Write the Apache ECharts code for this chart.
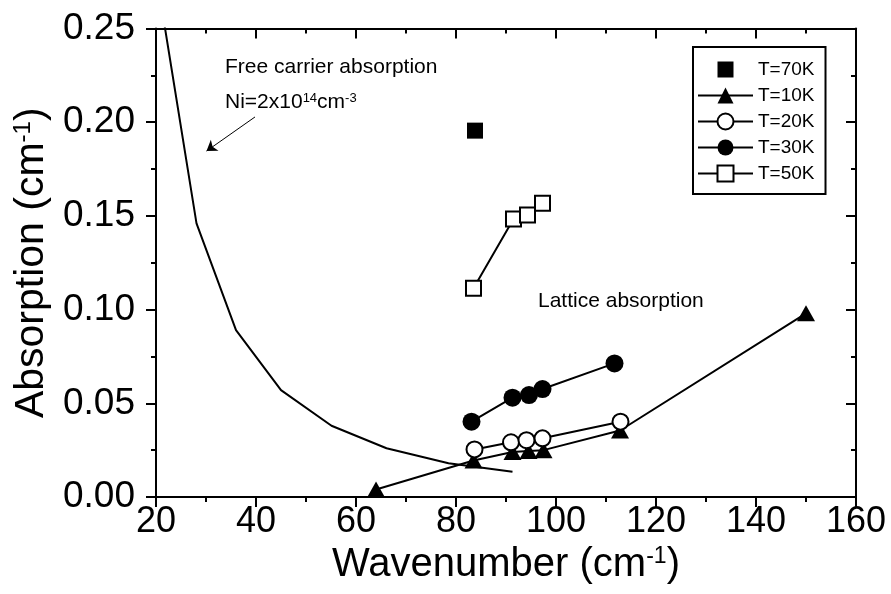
<!DOCTYPE html>
<html>
<head>
<meta charset="utf-8">
<script src="https://cdn.jsdelivr.net/npm/echarts@6/dist/echarts.min.js"></script>
<style>
html,body{margin:0;padding:0;background:#fff;}
#chart{width:891px;height:594px;}
</style>
</head>
<body>
<div id="chart"></div>
<script>
// ---- data ----
const xTicks = { min: 20, max: 160, interval: 20 };
const yTicks = { min: 0, max: 0.25, interval: 0.05 };

const legendNames = ['T=70K', 'T=10K', 'T=20K', 'T=30K', 'T=50K'];

const t70 = [[83.8, 0.1955]];
const t10 = [[64, 0.004], [83.5, 0.0195], [91.3, 0.024], [94.5, 0.0245], [97.5, 0.025], [112.8, 0.0355], [150, 0.098]];
const t20 = [[83.7, 0.0254], [91, 0.0292], [94.1, 0.0303], [97.3, 0.0313], [112.9, 0.0402]];
const t30 = [[83.1, 0.0402], [91.3, 0.053], [94.6, 0.0544], [97.3, 0.0576], [111.7, 0.0713]];
const t50 = [[83.5, 0.1114], [91.5, 0.1483], [94.3, 0.1505], [97.3, 0.1567]];

const freeCarrier = [[20, 0.28], [28.1, 0.146], [36, 0.089], [45, 0.057], [55.1, 0.038], [66.1, 0.026], [78.5, 0.018], [91.3, 0.0135]];
const arrowFrom = [39.8, 0.2028];
const arrowTo = [30.1, 0.1846];

const FONT = '"Liberation Sans", Arial, sans-serif';

const chart = echarts.init(document.getElementById('chart'), null, { renderer: 'canvas' });

const axisLineStyle = { color: '#000', width: 2 };

function mainX() {
  return {
    type: 'value', position: 'bottom', gridIndex: 0,
    min: xTicks.min, max: xTicks.max, interval: xTicks.interval,
    axisLine: { show: true, onZero: false, lineStyle: axisLineStyle },
    axisTick: { show: true, inside: false, length: 10, lineStyle: axisLineStyle },
    minorTick: { show: true, splitNumber: 2, length: 5, lineStyle: axisLineStyle },
    splitLine: { show: false },
    axisLabel: { fontSize: 36, color: '#000', fontFamily: FONT, margin: 7 },
    name: 'Wavenumber (cm{sup|-1})',
    nameLocation: 'middle', nameGap: 46,
    nameTextStyle: {
      fontSize: 40, color: '#000', fontFamily: FONT,
      rich: { sup: { fontSize: 23, color: '#000', fontFamily: FONT, verticalAlign: 'top' } }
    }
  };
}
function topX() {
  return {
    type: 'value', position: 'top', gridIndex: 0,
    min: xTicks.min, max: xTicks.max, interval: xTicks.interval,
    axisLine: { show: true, onZero: false, lineStyle: axisLineStyle },
    axisTick: { show: true, inside: true, length: 10, lineStyle: axisLineStyle },
    minorTick: { show: true, splitNumber: 2, length: 5, lineStyle: axisLineStyle },
    splitLine: { show: false },
    axisLabel: { show: false }
  };
}
function mainY() {
  return {
    type: 'value', position: 'left', gridIndex: 0,
    min: yTicks.min, max: yTicks.max, interval: yTicks.interval,
    axisLine: { show: true, onZero: false, lineStyle: axisLineStyle },
    axisTick: { show: true, inside: false, length: 10, lineStyle: axisLineStyle },
    minorTick: { show: true, splitNumber: 2, length: 5, lineStyle: axisLineStyle },
    splitLine: { show: false },
    axisLabel: { fontSize: 37, color: '#000', fontFamily: FONT, margin: 21,
      formatter: v => v.toFixed(2) },
    name: 'Absorption (cm{sup|-1})',
    nameLocation: 'middle', nameGap: 91, nameRotate: 90,
    nameTextStyle: {
      fontSize: 41, color: '#000', fontFamily: FONT,
      rich: { sup: { fontSize: 24, color: '#000', fontFamily: FONT, verticalAlign: 'top' } }
    }
  };
}
function rightY() {
  return {
    type: 'value', position: 'right', gridIndex: 0,
    min: yTicks.min, max: yTicks.max, interval: yTicks.interval,
    axisLine: { show: true, onZero: false, lineStyle: axisLineStyle },
    axisTick: { show: true, inside: true, length: 10, lineStyle: axisLineStyle },
    minorTick: { show: true, splitNumber: 2, length: 5, lineStyle: axisLineStyle },
    splitLine: { show: false },
    axisLabel: { show: false }
  };
}

const blackLine = { color: '#000', width: 2 };

const option = {
  backgroundColor: '#fff',
  animation: false,
  grid: { left: 156, right: 35, top: 28.5, bottom: 97, containLabel: false },
  xAxis: [mainX(), topX()],
  yAxis: [mainY(), rightY()],
  legend: {
    data: legendNames,
    orient: 'vertical',
    left: 693, top: 47,
    itemWidth: 55, itemHeight: 20, itemGap: 7,
    padding: [13, 11, 11, 4],
    borderColor: '#000', borderWidth: 2,
    backgroundColor: '#fff',
    textStyle: { fontSize: 19, color: '#000', fontFamily: FONT },
    selectedMode: false
  },
  graphic: [
    { type: 'text', left: 225, top: 57, silent: true,
      style: { text: 'Free carrier absorption', fill: '#000', font: '21px ' + FONT } },
    { type: 'text', left: 225, top: 92, silent: true,
      style: { text: 'Ni=2x10{sup|14}cm{sup|-3}', fill: '#000', font: '21px ' + FONT,
        rich: { sup: { fontSize: 13, fill: '#000', fontFamily: FONT, verticalAlign: 'top' } } } },
    { type: 'text', left: 538, top: 291, silent: true,
      style: { text: 'Lattice absorption', fill: '#000', font: '21px ' + FONT } }
  ],
  series: [
    {
      name: 'Free carrier', type: 'line', data: freeCarrier,
      xAxisIndex: 0, yAxisIndex: 0,
      symbol: 'none', clip: true, z: 2,
      lineStyle: blackLine, itemStyle: { color: '#000' },
      markLine: {
        silent: true, animation: false,
        symbol: ['none', 'arrow'], symbolSize: 10,
        lineStyle: { color: '#000', width: 1, type: 'solid' },
        label: { show: false },
        data: [[{ coord: arrowFrom }, { coord: arrowTo }]]
      }
    },
    {
      name: 'T=70K', type: 'line', data: t70, xAxisIndex: 0, yAxisIndex: 0,
      symbol: 'rect', symbolSize: 16, showAllSymbol: true, z: 5,
      lineStyle: { color: '#000', width: 2, opacity: 0 },
      itemStyle: { color: '#000', opacity: 1 }
    },
    {
      name: 'T=10K', type: 'line', data: t10, xAxisIndex: 0, yAxisIndex: 0,
      symbol: 'triangle', symbolSize: [18, 16], showAllSymbol: true, z: 3,
      lineStyle: blackLine, itemStyle: { color: '#000' }
    },
    {
      name: 'T=20K', type: 'line', data: t20, xAxisIndex: 0, yAxisIndex: 0,
      symbol: 'circle', symbolSize: 16, showAllSymbol: true, z: 4,
      lineStyle: blackLine, itemStyle: { color: '#fff', borderColor: '#000', borderWidth: 2 }
    },
    {
      name: 'T=30K', type: 'line', data: t30, xAxisIndex: 0, yAxisIndex: 0,
      symbol: 'circle', symbolSize: 18, showAllSymbol: true, z: 4,
      lineStyle: blackLine, itemStyle: { color: '#000' }
    },
    {
      name: 'T=50K', type: 'line', data: t50, xAxisIndex: 0, yAxisIndex: 0,
      symbol: 'rect', symbolSize: 15, showAllSymbol: true, z: 4,
      lineStyle: blackLine, itemStyle: { color: '#fff', borderColor: '#000', borderWidth: 2 }
    }
  ]
};

chart.setOption(option);
</script>
</body>
</html>
